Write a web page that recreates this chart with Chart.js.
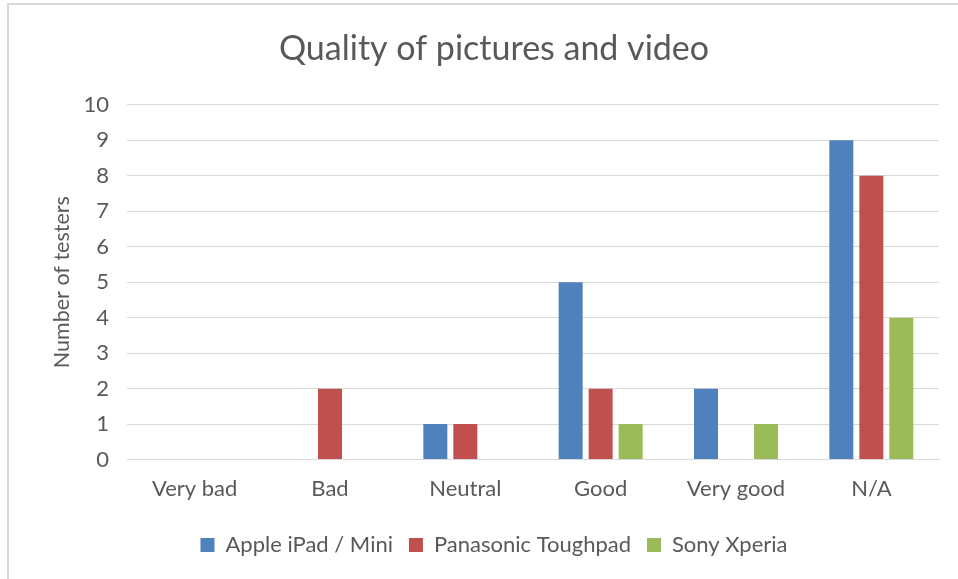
<!DOCTYPE html>
<html>
<head>
<meta charset="utf-8">
<script src="https://cdn.jsdelivr.net/npm/chart.js@4/dist/chart.umd.min.js"></script>
<style>
html,body{margin:0;padding:0;background:#fff;}
#wrap{position:absolute;left:0;top:0;width:958px;height:579px;}
</style>
</head>
<body>
<div id="wrap"><canvas id="c" width="958" height="579"></canvas></div>
<script>
const categories = ["Very bad", "Bad", "Neutral", "Good", "Very good", "N/A"];
const seriesNames = ["Apple iPad / Mini", "Panasonic Toughpad", "Sony Xperia"];
const appleValues = [0, 0, 1, 5, 2, 9];
const panasonicValues = [0, 2, 1, 2, 0, 8];
const sonyValues = [0, 0, 0, 1, 1, 4];
const yTicks = [0, 1, 2, 3, 4, 5, 6, 7, 8, 9, 10];
const colors = ["#4F81BD", "#C0504D", "#9BBB59"];

const FONT = "Lato, 'Open Sans', sans-serif";
const TEXT = "#595959";

const borderPlugin = {
  id: "frame",
  beforeDraw(chart) {
    const ctx = chart.ctx;
    ctx.save();
    ctx.fillStyle = "#fff";
    ctx.fillRect(0, 0, chart.width, chart.height);
    ctx.strokeStyle = "#d9d9d9";
    ctx.lineWidth = 2;
    ctx.beginPath();
    ctx.moveTo(8, chart.height);
    ctx.lineTo(8, 4);
    ctx.lineTo(chart.width, 4);
    ctx.stroke();
    ctx.restore();
  }
};

new Chart(document.getElementById("c"), {
  type: "bar",
  data: {
    labels: categories,
    datasets: [
      { label: seriesNames[0], data: appleValues, backgroundColor: colors[0] },
      { label: seriesNames[1], data: panasonicValues, backgroundColor: colors[1] },
      { label: seriesNames[2], data: sonyValues, backgroundColor: colors[2] }
    ]
  },
  options: {
    responsive: false,
    animation: false,
    devicePixelRatio: 1,
    categoryPercentage: 0.665,
    barPercentage: 0.8,
    layout: { padding: { left: 49, right: 19, top: 20, bottom: 13 } },
    plugins: {
      title: {
        display: true,
        text: "Quality of pictures and video",
        color: TEXT,
        font: { family: FONT, size: 34, weight: "normal" },
        padding: { top: 9, bottom: 35 }
      },
      legend: {
        position: "bottom",
        labels: {
          color: TEXT,
          font: { family: FONT, size: 22 },
          boxWidth: 14,
          boxHeight: 14,
          padding: 16
        }
      },
      tooltip: { enabled: false }
    },
    scales: {
      x: {
        grid: { display: false, drawTicks: false },
        border: { display: true, color: "#d9d9d9", width: 1 },
        ticks: { color: TEXT, font: { family: FONT, size: 22 }, padding: 16, maxRotation: 0 }
      },
      y: {
        min: 0,
        max: 10,
        afterBuildTicks(scale) { scale.ticks = yTicks.map(v => ({ value: v })); },
        afterFit(scale) { scale.width = 78; },
        grid: { color: "#d9d9d9", lineWidth: 1, drawTicks: false },
        border: { display: false },
        ticks: { color: TEXT, font: { family: FONT, size: 22 }, padding: 18 },
        title: {
          display: true,
          text: "Number of testers",
          color: TEXT,
          font: { family: FONT, size: 21.5 },
          padding: 0
        }
      }
    }
  },
  plugins: [borderPlugin]
});
</script>
</body>
</html>
